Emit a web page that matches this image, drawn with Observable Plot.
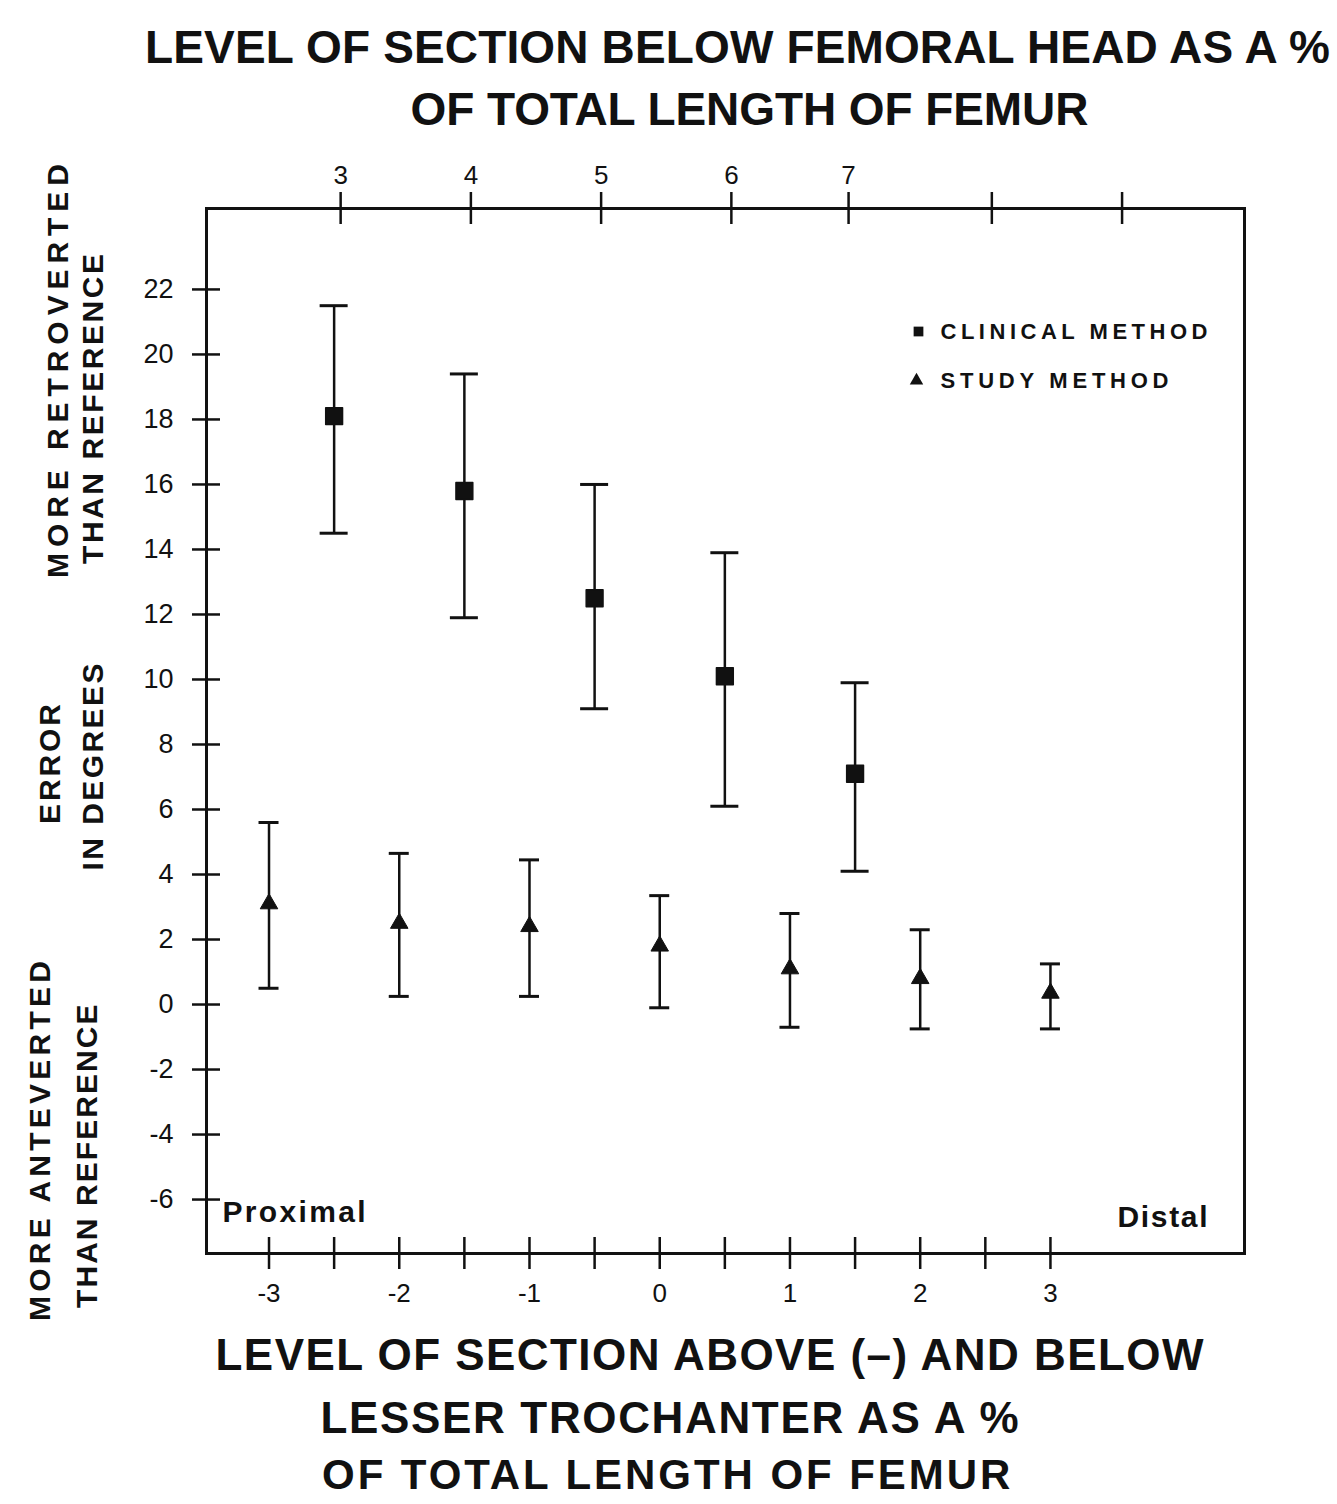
<!DOCTYPE html>
<html>
<head>
<meta charset="utf-8">
<script src="https://cdn.jsdelivr.net/npm/d3@7"></script>
<script src="https://cdn.jsdelivr.net/npm/@observablehq/plot@0.6"></script>
<style>
  html, body { margin: 0; padding: 0; background: #fff; }
  #chart svg { display: block; }
</style>
</head>
<body>
<div id="chart"></div>
<script>
// ---- data ----
// bottom axis: level above (-) / below lesser trochanter, % of femur length
const bottomTicks = [-3, -2, -1, 0, 1, 2, 3];
const bottomMinorTicks = [-3, -2.5, -2, -1.5, -1, -0.5, 0, 0.5, 1, 1.5, 2, 2.5, 3];
// top axis: level below femoral head, % of femur length (positions on bottom scale)
const topTickPos = [-2.45, -1.45, -0.45, 0.55, 1.45, 2.55, 3.55];
const topTickLabels = ["3", "4", "5", "6", "7", "", ""];
const yTicks = [-6, -4, -2, 0, 2, 4, 6, 8, 10, 12, 14, 16, 18, 20, 22];

// Clinical method (squares)
const clinicalX    = [-2.5, -1.5, -0.5, 0.5, 1.5];
const clinicalMean = [18.1, 15.8, 12.5, 10.1, 7.1];
const clinicalHigh = [21.5, 19.4, 16.0, 13.9, 9.9];
const clinicalLow  = [14.5, 11.9, 9.1, 6.1, 4.1];

// Study method (triangles)
const studyX    = [-3, -2, -1, 0, 1, 2, 3];
const studyMean = [3.1, 2.5, 2.4, 1.8, 1.1, 0.8, 0.35];
const studyHigh = [5.6, 4.65, 4.45, 3.35, 2.8, 2.3, 1.25];
const studyLow  = [0.5, 0.25, 0.25, -0.1, -0.7, -0.75, -0.75];

const clinical = clinicalX.map((x, i) => ({x, mean: clinicalMean[i], high: clinicalHigh[i], low: clinicalLow[i]}));
const study = studyX.map((x, i) => ({x, mean: studyMean[i], high: studyHigh[i], low: studyLow[i]}));

const W = 1337, H = 1504;
const mL = 206, mR = 93, mT = 208, mB = 251;
const frameW = W - mL - mR, frameH = H - mT - mB;
const ink = "#111";

const label = (s, o) => Plot.text([s], {text: d => d, fontWeight: "bold", fill: ink, lineAnchor: "middle", ...o});

const chart = Plot.plot({
  width: W,
  height: H,
  marginLeft: mL,
  marginRight: mR,
  marginTop: mT,
  marginBottom: mB,
  style: {background: "#fff", color: ink, fontFamily: "'Liberation Sans', Arial, Helvetica, sans-serif"},
  x: {domain: [-3.48, 4.49], axis: null},
  y: {domain: [-7.66, 24.49], axis: null},
  marks: [
    Plot.frame({stroke: ink, strokeWidth: 3}),
    // crossing ticks
    Plot.ruleX(bottomMinorTicks, {x: d => d, stroke: ink, strokeWidth: 2.5, insetTop: frameH - 32, dy: 16}),
    Plot.ruleX(topTickPos, {x: d => d, stroke: ink, strokeWidth: 2.5, insetBottom: frameH - 32, dy: -16}),
    Plot.ruleY(yTicks, {y: d => d, stroke: ink, strokeWidth: 2.5, insetRight: frameW - 28, dx: -14}),
    // tick labels
    Plot.axisY({ticks: yTicks, anchor: "left", label: null, tickSize: 0, tickPadding: 33, fontSize: 27, tickFormat: d => String(d)}),
    Plot.axisX({ticks: bottomTicks, anchor: "bottom", label: null, tickSize: 0, tickPadding: 30, fontSize: 26, tickFormat: d => String(d)}),
    Plot.axisX({ticks: topTickPos, anchor: "top", label: null, tickSize: 0, tickPadding: 25, fontSize: 26,
      tickFormat: d => topTickLabels[topTickPos.indexOf(d)]}),
    // error bars - clinical
    Plot.ruleX(clinical, {x: "x", y1: "low", y2: "high", stroke: ink, strokeWidth: 2.5}),
    Plot.ruleY(clinical, {y: "high", x1: "x", x2: "x", insetLeft: -14, insetRight: -14, stroke: ink, strokeWidth: 3}),
    Plot.ruleY(clinical, {y: "low", x1: "x", x2: "x", insetLeft: -14, insetRight: -14, stroke: ink, strokeWidth: 3}),
    Plot.dot(clinical, {x: "x", y: "mean", symbol: "square", r: 9.5, fill: ink, stroke: ink, strokeWidth: 1.5, strokeLinejoin: "round"}),
    // error bars - study
    Plot.ruleX(study, {x: "x", y1: "low", y2: "high", stroke: ink, strokeWidth: 2.5}),
    Plot.ruleY(study, {y: "high", x1: "x", x2: "x", insetLeft: -10, insetRight: -10, stroke: ink, strokeWidth: 3}),
    Plot.ruleY(study, {y: "low", x1: "x", x2: "x", insetLeft: -10, insetRight: -10, stroke: ink, strokeWidth: 3}),
    Plot.dot(study, {x: "x", y: "mean", symbol: "triangle", r: 6.5, fill: ink, stroke: ink, strokeWidth: 1}),
    // legend
    Plot.dot([0], {frameAnchor: "top-left", dx: 712, dy: 123, symbol: "square", r: 5.5, fill: ink}),
    Plot.dot([0], {frameAnchor: "top-left", dx: 710, dy: 172, symbol: "triangle", r: 5, fill: ink}),
    label("CLINICAL METHOD", {frameAnchor: "top-left", textAnchor: "start", dx: 734, dy: 123, fontSize: 22}),
    label("STUDY METHOD", {frameAnchor: "top-left", textAnchor: "start", dx: 734, dy: 172, fontSize: 22}),
    // Proximal / Distal
    label("Proximal", {frameAnchor: "bottom-left", textAnchor: "start", dx: 16, dy: -41, fontSize: 30}),
    label("Distal", {frameAnchor: "bottom-right", textAnchor: "end", dx: -37, dy: -36, fontSize: 30}),
    // titles
    label("LEVEL OF SECTION BELOW FEMORAL HEAD AS A %", {frameAnchor: "top", dx: 12, dy: -160, fontSize: 46}),
    label("OF TOTAL LENGTH OF FEMUR", {frameAnchor: "top", dx: 24, dy: -98, fontSize: 46}),
    label("LEVEL OF SECTION ABOVE (\u2013) AND BELOW", {frameAnchor: "bottom", dx: -16, dy: 102, fontSize: 44}),
    label("LESSER TROCHANTER AS A %", {frameAnchor: "bottom", dx: -56, dy: 165, fontSize: 44}),
    label("OF TOTAL LENGTH OF FEMUR ", {frameAnchor: "bottom", dx: -52, dy: 222, fontSize: 42}),
    // y labels (rotated)
    label("MORE RETROVERTED", {frameAnchor: "left", textAnchor: "middle", rotate: -90, dx: -148, dy: -360, fontSize: 30}),
    label("THAN REFERENCE", {frameAnchor: "left", textAnchor: "middle", rotate: -90, dx: -113, dy: -322, fontSize: 30}),
    label("ERROR", {frameAnchor: "left", textAnchor: "middle", rotate: -90, dx: -156, dy: 33, fontSize: 30}),
    label("IN DEGREES", {frameAnchor: "left", textAnchor: "middle", rotate: -90, dx: -113, dy: 36, fontSize: 30}),
    label("MORE ANTEVERTED", {frameAnchor: "left", textAnchor: "middle", rotate: -90, dx: -166, dy: 410, fontSize: 30}),
    label("THAN REFERENCE ", {frameAnchor: "left", textAnchor: "middle", rotate: -90, dx: -119, dy: 420, fontSize: 30})
  ]
});

// stretch texts to the widths seen in the figure (letter-spacing)
const textLengths = new Map([
  ["CLINICAL METHOD", 267], ["STUDY METHOD", 228],
  ["Proximal", 143], ["Distal", 90],
  ["LEVEL OF SECTION BELOW FEMORAL HEAD AS A %", 1185],
  ["OF TOTAL LENGTH OF FEMUR", 678],
  ["LEVEL OF SECTION ABOVE (\u2013) AND BELOW", 988],
  ["LESSER TROCHANTER AS A %", 698],
  ["OF TOTAL LENGTH OF FEMUR ", 703],
  ["MORE RETROVERTED", 414], ["THAN REFERENCE", 310],
  ["ERROR", 120], ["IN DEGREES", 207],
  ["MORE ANTEVERTED", 360], ["THAN REFERENCE ", 314]
]);
d3.select(chart).selectAll("text").each(function () {
  const t = this.textContent;
  if (textLengths.has(t)) {
    d3.select(this).attr("textLength", textLengths.get(t)).attr("lengthAdjust", "spacing");
  }
});
document.getElementById("chart").appendChild(chart);
</script>
</body>
</html>
